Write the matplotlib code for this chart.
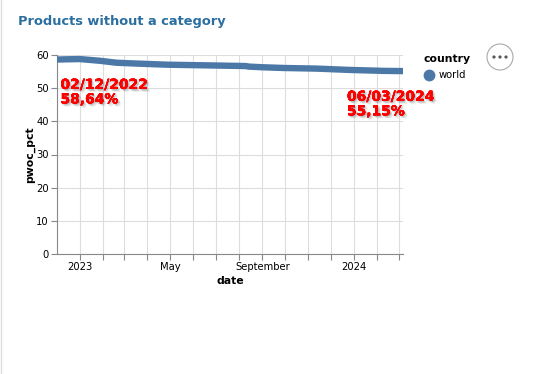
import numpy as np
import pandas as pd
import matplotlib
matplotlib.use('Agg')
import matplotlib.pyplot as plt
import matplotlib.dates as mdates
import matplotlib.patheffects as pe
from matplotlib.patches import Circle
from matplotlib.lines import Line2D

# values
dates = ['2022-12-02', '2023-01-01', '2023-01-28', '2023-02-19', '2023-03-13',
         '2023-04-27', '2023-06-18', '2023-08-10', '2023-08-14', '2023-09-03',
         '2023-09-30', '2023-11-12', '2023-12-26', '2024-02-08', '2024-03-06']
pwoc_pct = [58.64, 58.78, 58.26, 57.67, 57.46,
            57.08, 56.88, 56.67, 56.50, 56.29,
            56.08, 55.90, 55.50, 55.22, 55.15]

tick_months = ['2023-01-01', '2023-02-01', '2023-03-01', '2023-04-01', '2023-05-01',
               '2023-06-01', '2023-07-01', '2023-08-01', '2023-09-01', '2023-10-01',
               '2023-11-01', '2023-12-01', '2024-01-01', '2024-02-01', '2024-03-01']
tick_labels = ['2023', '', '', '', 'May', '', '', '', 'September', '', '', '', '2024', '', '']
y_ticks = [0, 10, 20, 30, 40, 50, 60]

first_note = '02/12/2022\n58,64%'
last_note = '06/03/2024\n55,15%'

blue = '#4c78a8'
grid_c = '#dddddd'
axis_c = '#888888'

d = pd.to_datetime(dates)
fig = plt.figure(figsize=(5.59, 3.74), dpi=100)
ax = fig.add_axes([57 / 559, 1 - 254 / 374, (403 - 57) / 559, (254 - 55) / 374])

ax.plot(d, pwoc_pct, color=blue, lw=4.6, solid_capstyle='round', solid_joinstyle='round', zorder=3)

ax.set_xlim(d[0], d[-1])
ax.set_ylim(0, 60)
ax.set_yticks(y_ticks)
ax.set_xticks(pd.to_datetime(tick_months))
ax.set_xticklabels(tick_labels)
ax.grid(True, color=grid_c, lw=0.8)
ax.set_axisbelow(True)
for s in ['top', 'right']:
    ax.spines[s].set_visible(False)
for s in ['left', 'bottom']:
    ax.spines[s].set_color(axis_c)
    ax.spines[s].set_linewidth(0.8)
ax.tick_params(length=4, width=0.8, color=axis_c, labelsize=7.2, pad=2)
ax.set_xlabel('date', fontsize=7.8, fontweight='bold', labelpad=3)
ax.set_ylabel('pwoc_pct', fontsize=7.8, fontweight='bold', labelpad=1)

# soft blurred-looking shadow built from a few faint offset copies
shadow = []
for off in [(0.8, -0.8), (1.6, -1.6), (2.4, -2.4), (1.6, -0.8), (0.8, -1.6)]:
    shadow.append(pe.SimpleLineShadow(offset=off, shadow_color='#777777', alpha=0.12, linewidth=1.2))
    shadow.append(pe.withSimplePatchShadow(offset=off, shadow_rgbFace='#777777', alpha=0.1))
shadow = [pe.withSimplePatchShadow(offset=o, shadow_rgbFace='#666666', alpha=0.13)
          for o in [(0.7, -0.7), (1.4, -1.4), (2.1, -2.1), (1.4, -0.5), (0.5, -1.6)]] + [pe.Normal()]
ax.text(0.01, 0.885, first_note, transform=ax.transAxes, color='red', fontsize=10,
        fontweight='bold', va='top', ha='left', linespacing=1.05, path_effects=shadow, zorder=5)
ax.text(0.838, 0.825, last_note, transform=ax.transAxes, color='red', fontsize=10,
        fontweight='bold', va='top', ha='left', linespacing=1.05, path_effects=shadow, zorder=5)

fig.text(18 / 559, 1 - 21 / 374, 'Products without a category', color='#2a6fa0',
         fontsize=9.4, fontweight='bold', va='center', ha='left')

# legend
fig.text(423 / 559, 1 - 59 / 374, 'country', fontsize=7.8, fontweight='bold', va='center', ha='left')
fig.add_artist(Line2D([429 / 559], [1 - 75 / 374], marker='o', ms=7.5, color=blue, ls='none'))
fig.text(439 / 559, 1 - 75 / 374, 'world', fontsize=7.2, va='center', ha='left')

# menu button
fig.add_artist(Circle((5.00, 3.74 - 0.57), 0.13, transform=fig.dpi_scale_trans,
                      facecolor='white', edgecolor='#aaaaaa', lw=0.8))
for dx in [-0.06, 0, 0.06]:
    fig.add_artist(Circle((5.00 + dx, 3.74 - 0.57), 0.016, transform=fig.dpi_scale_trans,
                          facecolor='#555555', edgecolor='none'))

# card border on the left
fig.add_artist(Line2D([0.5 / 559, 0.5 / 559], [0, 1], color='#dddddd', lw=1))

fig.savefig('out.png', dpi=100)
